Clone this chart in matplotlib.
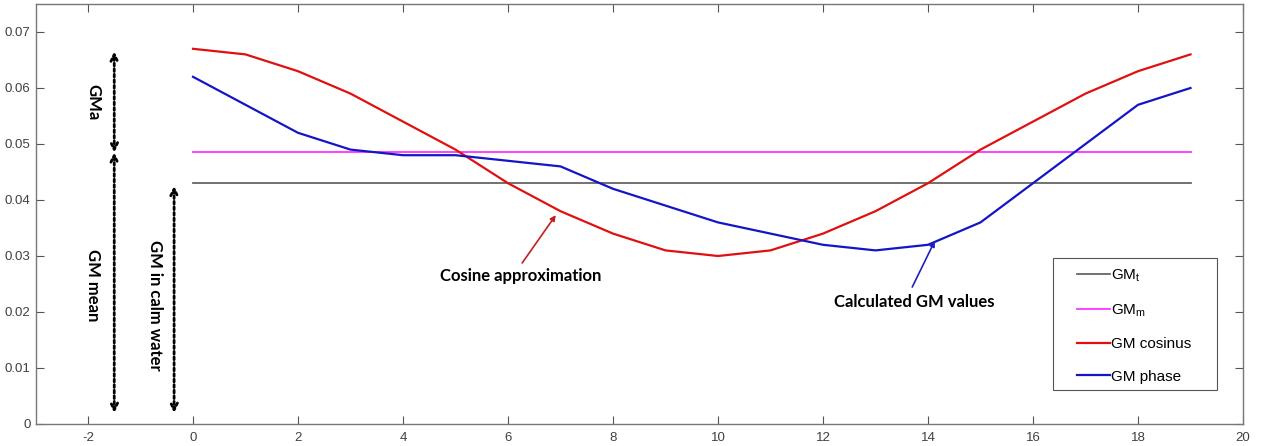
import matplotlib
matplotlib.use("Agg")
import matplotlib.pyplot as plt
from matplotlib.patches import Rectangle

x = list(range(20))
gm_cosinus = [0.067, 0.066, 0.063, 0.059, 0.054, 0.049, 0.043, 0.038, 0.034, 0.031,
              0.030, 0.031, 0.034, 0.038, 0.043, 0.049, 0.054, 0.059, 0.063, 0.066]
gm_phase = [0.062, 0.057, 0.052, 0.049, 0.048, 0.048, 0.047, 0.046, 0.042, 0.039,
            0.036, 0.034, 0.032, 0.031, 0.032, 0.036, 0.043, 0.050, 0.057, 0.060]
gm_t = 0.043
gm_m = 0.0485
x_ticks = [-2, 0, 2, 4, 6, 8, 10, 12, 14, 16, 18, 20]
y_ticks = [0, 0.01, 0.02, 0.03, 0.04, 0.05, 0.06, 0.07]
bold_font = ['Lato', 'DejaVu Sans']


def main():
    plt.rcParams['font.family'] = ['Liberation Sans', 'DejaVu Sans']
    fig = plt.figure(figsize=(12.63, 4.46), dpi=100)
    ax = fig.add_axes([35.5 / 1263, 22 / 446, (1243 - 35.5) / 1263, (424 - 4) / 446])

    ax.plot([x[0], x[-1]], [gm_t, gm_t], color='#666666', lw=1.3,
            label=r'GM$_\mathregular{t}$')
    ax.plot([x[0], x[-1]], [gm_m, gm_m], color='#ff33ff', lw=1.3,
            label=r'GM$_\mathregular{m}$')
    ax.plot(x, gm_cosinus, color='#e01010', lw=1.6, label='GM cosinus')
    ax.plot(x, gm_phase, color='#1515c8', lw=1.6, label='GM phase')

    # dotted double arrows on the left
    dotted = dict(arrowstyle='<->', linestyle=(0, (1, 1)), lw=2, color='black',
                  shrinkA=0, shrinkB=0, mutation_scale=12)
    ax.annotate('', xy=(-1.5, 0.0665), xytext=(-1.5, gm_m), arrowprops=dotted)
    ax.annotate('', xy=(-1.5, gm_m), xytext=(-1.5, 0.002), arrowprops=dotted)
    ax.annotate('', xy=(-0.36, 0.0425), xytext=(-0.36, 0.002), arrowprops=dotted)

    vtext = dict(fontsize=12, fontweight='bold', rotation=-90,
                 ha='center', va='center', family=bold_font)
    ax.text(-1.9, 0.0575, 'GMa', **vtext)
    ax.text(-1.9, 0.0248, 'GM mean', **vtext)
    ax.text(-0.72, 0.0212, 'GM in calm water', **vtext)

    # arrows pointing at the curves
    ax.annotate('', xy=(6.91, 0.0373), xytext=(6.27, 0.02875),
                arrowprops=dict(arrowstyle='-|>', color='#c02020', lw=1.2,
                                shrinkA=0, shrinkB=0, mutation_scale=8))
    ax.annotate('', xy=(14.13, 0.0327), xytext=(13.70, 0.02446),
                arrowprops=dict(arrowstyle='-|>', color='#2020c0', lw=1.2,
                                shrinkA=0, shrinkB=0, mutation_scale=8))
    ax.text(6.25, 0.0264, 'Cosine approximation', fontsize=12, fontweight='bold',
            ha='center', va='center', family=bold_font)
    ax.text(13.73, 0.0218, 'Calculated GM values', fontsize=12, fontweight='bold',
            ha='center', va='center', family=bold_font)

    ax.set_xlim(-3, 20)
    ax.set_ylim(0, 0.075)
    ax.set_xticks(x_ticks)
    ax.set_yticks(y_ticks)
    ax.set_xticklabels([str(t) for t in x_ticks])
    ax.set_yticklabels(['0'] + ['%.2f' % t for t in y_ticks[1:]])
    ax.tick_params(direction='in', top=True, right=True, length=6, width=0.8,
                   colors='#555555', labelsize=9.5, labelcolor='#404040')
    ax.tick_params(axis='x', pad=6)
    for s in ax.spines.values():
        s.set_color('#777777')
        s.set_linewidth(1.0)

    # legend box drawn separately to get the wide MATLAB-style padding
    ax.add_patch(Rectangle((0.8427, 0.081), 0.1358, 0.314, transform=ax.transAxes,
                           fill=True, facecolor='white', edgecolor='#555555',
                           lw=0.8, zorder=4))
    leg = ax.legend(loc='upper left', bbox_to_anchor=(0.8625, 0.373),
                    fontsize=11, handlelength=2.15, handletextpad=0.1,
                    labelspacing=1.2, borderpad=0, frameon=False,
                    borderaxespad=0)
    leg.set_zorder(5)

    fig.savefig('out.png', dpi=100)


if __name__ == "__main__":
    main()
